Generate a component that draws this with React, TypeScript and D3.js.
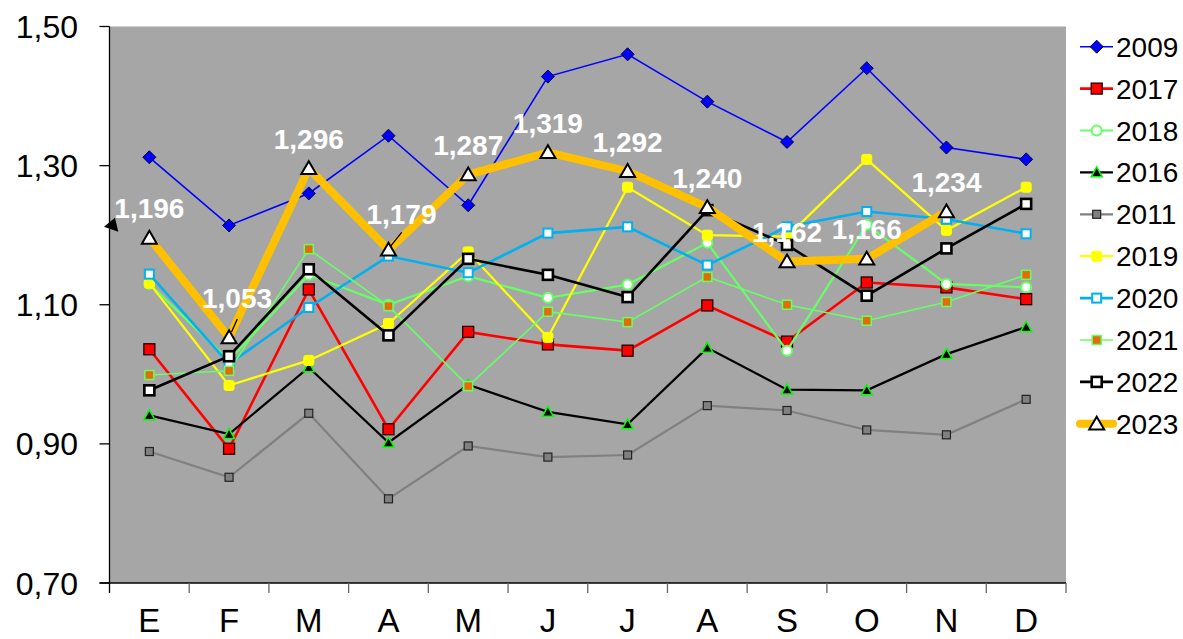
import React, { useEffect } from "react";
import * as d3 from "d3";

const months = ["E", "F", "M", "A", "M", "J", "J", "A", "S", "O", "N", "D"];
const yTicks = [0.7, 0.9, 1.1, 1.3, 1.5];

const s2009 = [1.312, 1.214, 1.26, 1.343, 1.243, 1.428, 1.46, 1.392, 1.334, 1.44, 1.326, 1.309];
const s2017 = [1.036, 0.893, 1.122, 0.921, 1.061, 1.043, 1.034, 1.099, 1.047, 1.132, 1.125, 1.108];
const s2018 = [1.13, 1.02, 1.143, 1.1, 1.141, 1.11, 1.129, 1.189, 1.034, 1.215, 1.13, 1.125];
const s2016 = [0.941, 0.914, 1.01, 0.902, 0.985, 0.946, 0.928, 1.038, 0.978, 0.977, 1.029, 1.068];
const s2011 = [0.889, 0.852, 0.944, 0.821, 0.897, 0.881, 0.884, 0.955, 0.948, 0.92, 0.913, 0.964];
const s2019 = [1.131, 0.984, 1.02, 1.073, 1.176, 1.053, 1.269, 1.2, 1.198, 1.309, 1.207, 1.269];
const s2020 = [1.144, 1.015, 1.096, 1.17, 1.146, 1.203, 1.212, 1.157, 1.212, 1.234, 1.223, 1.202];
const s2021 = [0.999, 1.005, 1.18, 1.098, 0.983, 1.09, 1.075, 1.14, 1.1, 1.077, 1.104, 1.143];
const s2022 = [0.977, 1.026, 1.151, 1.056, 1.166, 1.143, 1.111, 1.236, 1.186, 1.113, 1.181, 1.245];
const s2023: (number | null)[] = [1.196, 1.053, 1.296, 1.179, 1.287, 1.319, 1.292, 1.24, 1.162, 1.166, 1.234, null];

type Marker = "diamond" | "square" | "circle" | "triangle" | "bigTriangle";
interface Series {
  name: string;
  values: (number | null)[];
  color: string;
  width: number;
  marker: Marker;
  size: number;
  fill: string;
  stroke: string;
  strokeWidth: number;
}

const series: Series[] = [
  { name: "2009", values: s2009, color: "#0000FF", width: 1.6, marker: "diamond", size: 13, fill: "#0000FF", stroke: "#000033", strokeWidth: 1 },
  { name: "2017", values: s2017, color: "#FF0000", width: 2.6, marker: "square", size: 11, fill: "#FF0000", stroke: "#220000", strokeWidth: 1.3 },
  { name: "2018", values: s2018, color: "#66FF66", width: 2.2, marker: "circle", size: 11, fill: "#FFFFFF", stroke: "#66FF66", strokeWidth: 2 },
  { name: "2016", values: s2016, color: "#000000", width: 2.2, marker: "triangle", size: 11, fill: "#000000", stroke: "#00FF00", strokeWidth: 1.5 },
  { name: "2011", values: s2011, color: "#808080", width: 2.2, marker: "square", size: 8, fill: "#808080", stroke: "#222222", strokeWidth: 1.2 },
  { name: "2019", values: s2019, color: "#FFFF00", width: 2.2, marker: "square", size: 10, fill: "#FFFF00", stroke: "#FFFF00", strokeWidth: 1 },
  { name: "2020", values: s2020, color: "#00B0F0", width: 2.6, marker: "square", size: 9, fill: "#FFFFFF", stroke: "#00B0F0", strokeWidth: 2 },
  { name: "2021", values: s2021, color: "#66FF66", width: 1.6, marker: "square", size: 9, fill: "#E36C09", stroke: "#66FF66", strokeWidth: 1.5 },
  { name: "2022", values: s2022, color: "#000000", width: 2.6, marker: "square", size: 10, fill: "#FFFFFF", stroke: "#000000", strokeWidth: 2.6 },
  { name: "2023", values: s2023, color: "#FFC000", width: 8, marker: "bigTriangle", size: 15, fill: "#FFFFFF", stroke: "#000000", strokeWidth: 2 },
];

const labelOffsets: Record<number, [number, number]> = { 1: [8, -29], 3: [13, -26] };

const W = 1183;
const H = 639;
const plotLeft = 109.5;
const plotRight = 1066;
const plotTop = 26.5;
const plotBottom = 583;
const FONT = "Arial, 'Liberation Sans', Helvetica, sans-serif";

function markerEl(m: Marker, cx: number, cy: number, s: Series, key: string) {
  const h = s.size / 2;
  const common = { fill: s.fill, stroke: s.stroke, strokeWidth: s.strokeWidth };
  if (m === "diamond") {
    return <path key={key} d={`M${cx},${cy - h}L${cx + h},${cy}L${cx},${cy + h}L${cx - h},${cy}Z`} {...common} />;
  }
  if (m === "circle") {
    return <circle key={key} cx={cx} cy={cy} r={h - 0.5} {...common} />;
  }
  if (m === "triangle" || m === "bigTriangle") {
    const hh = m === "bigTriangle" ? h * 0.95 : h;
    return <path key={key} d={`M${cx},${cy - hh}L${cx + h},${cy + hh * 0.8}L${cx - h},${cy + hh * 0.8}Z`} {...common} strokeLinejoin="miter" />;
  }
  return <rect key={key} x={cx - h} y={cy - h} width={s.size} height={s.size} rx={s.name === "2019" ? 2 : 0} {...common} />;
}

export default function App() {
  useEffect(() => {
    document.body.style.margin = "0";
  }, []);

  const x = d3.scaleBand<number>().domain(d3.range(months.length)).range([plotLeft, plotRight]).paddingInner(0).paddingOuter(0);
  const bw = x.bandwidth();
  const cx = (i: number) => (x(i) as number) + bw / 2;
  const y = d3.scaleLinear().domain([0.7, 1.5]).range([plotBottom, plotTop]);

  const line = d3
    .line<number | null>()
    .defined((d) => d !== null)
    .x((_, i) => cx(i))
    .y((d) => y(d as number));

  const legendX = 1080;
  const legendTop = 46.7;
  const legendStep = 41.9;

  const s23 = series[series.length - 1];

  return (
    <svg width={W} height={H} style={{ display: "block", position: "absolute", left: 0, top: 0 }} fontFamily={FONT}>
      <rect x={0} y={0} width={W} height={H} fill="#FFFFFF" />
      <rect x={plotLeft} y={plotTop} width={plotRight - plotLeft} height={plotBottom - plotTop} fill="#A6A6A6" />

      {/* y axis */}
      <line x1={plotLeft} x2={plotLeft} y1={plotTop} y2={plotBottom} stroke="#000" strokeWidth={1.3} />
      {yTicks.map((t) => (
        <g key={t}>
          <line x1={plotLeft - 10} x2={plotLeft} y1={y(t)} y2={y(t)} stroke="#000" strokeWidth={1.3} />
          <text x={78} y={y(t) + 11.5} textAnchor="end" fontSize={32} fill="#000">
            {d3.format(".2f")(t).replace(".", ",")}
          </text>
        </g>
      ))}

      {/* x axis */}
      <line x1={plotLeft - 10} x2={plotRight} y1={plotBottom} y2={plotBottom} stroke="#000" strokeWidth={1.3} />
      {d3.range(months.length + 1).map((i) => {
        const xx = i < months.length ? (x(i) as number) : plotRight;
        return <line key={"xt" + i} x1={xx} x2={xx} y1={plotBottom} y2={plotBottom + 10} stroke={i === 0 ? "#000" : "#666"} strokeWidth={1.3} />;
      })}
      {months.map((m, i) => (
        <text key={"xl" + i} x={cx(i)} y={632} textAnchor="middle" fontSize={33} fill="#000">
          {m}
        </text>
      ))}

      {/* series */}
      {series.map((s) => (
        <g key={s.name}>
          <path d={line(s.values) || ""} fill="none" stroke={s.color} strokeWidth={s.width} strokeLinejoin="miter" />
          {s.values.map((v, i) => (v === null ? null : markerEl(s.marker, cx(i), y(v), s, s.name + "-" + i)))}
        </g>
      ))}

      {/* leader lines */}
      <line x1={237.3} y1={319} x2={231.5} y2={332} stroke="#000" strokeWidth={1.3} />
      <line x1={401.7} y1={232.3} x2={390.7} y2={246} stroke="#000" strokeWidth={1.3} />
      <path d="M104,226.7L115,217.7L118.3,231.7Z" fill="#000" />

      {/* data labels 2023 */}
      {s23.values.map((v, i) => {
        if (v === null) return null;
        const off = labelOffsets[i] || [0, -19.5];
        return (
          <text key={"dl" + i} x={cx(i) + off[0]} y={y(v) + off[1]} textAnchor="middle" fontSize={28} fontWeight="bold" fill="#FFFFFF">
            {d3.format(".3f")(v).replace(".", ",")}
          </text>
        );
      })}

      {/* legend */}
      {series.map((s, k) => {
        const ly = legendTop + k * legendStep;
        return (
          <g key={"lg" + s.name}>
            <line x1={legendX} x2={legendX + 33} y1={ly} y2={ly} stroke={s.color} strokeWidth={s.width} strokeLinecap={s.name === "2023" ? "round" : "butt"} />
            {markerEl(s.marker, legendX + 16.7, ly, s, "lgm" + s.name)}
            <text x={1116} y={ly + 10} fontSize={28} fill="#000">
              {s.name}
            </text>
          </g>
        );
      })}
    </svg>
  );
}
